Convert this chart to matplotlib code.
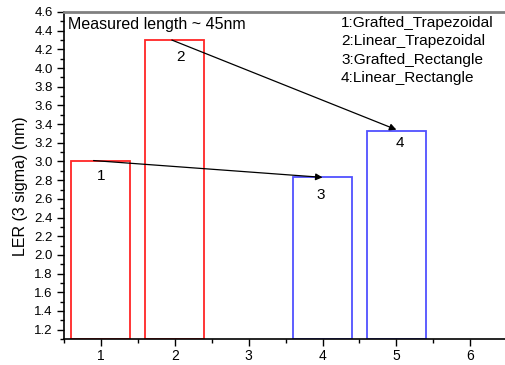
import matplotlib
matplotlib.use("Agg")
import matplotlib.pyplot as plt
from matplotlib.ticker import MultipleLocator

plt.rcParams['font.family'] = ['Liberation Sans', 'DejaVu Sans']

# Sample positions and LER values
positions = [1, 2, 4, 5]
ler_values = [3.01, 4.30, 2.83, 3.33]
bar_labels = ["1", "2", "3", "4"]
bar_colors = ["#ff0000", "#ff0000", "#3333ff", "#3333ff"]
legend_lines = ["1:Grafted_Trapezoidal", "2:Linear_Trapezoidal",
                "3:Grafted_Rectangle", "4:Linear_Rectangle"]
x_ticks = [1, 2, 3, 4, 5, 6]

W, H = 505, 365
fig = plt.figure(figsize=(W / 100, H / 100), dpi=100)
ax = fig.add_axes([64 / W, (H - 339) / H, (W - 64) / W, (339 - 12) / H])

ymin = 1.1
for x, v, c in zip(positions, ler_values, bar_colors):
    ax.bar(x, v - ymin, bottom=ymin, width=0.8, fill=False,
           edgecolor=c, linewidth=1.3, alpha=0.85)

# Number labels inside each bar
label_offsets = [(0.0, -0.16), (0.08, -0.18), (-0.03, -0.19), (0.05, -0.13)]
for x, v, t, (dx, dy) in zip(positions, ler_values, bar_labels, label_offsets):
    ax.text(x + dx, v + dy, t, ha="center", va="center", fontsize=11)

# Arrows linking trapezoidal to rectangle results
ax.annotate("", xy=(4.0, 2.83), xytext=(0.9, 3.01),
            arrowprops=dict(arrowstyle="-|>", color="black", lw=0.9,
                            mutation_scale=10, shrinkA=0, shrinkB=0))
ax.annotate("", xy=(5.0, 3.34), xytext=(1.96, 4.30),
            arrowprops=dict(arrowstyle="-|>", color="black", lw=0.9,
                            mutation_scale=10, shrinkA=0, shrinkB=0))

ax.set_xlim(0.5, 6.47)
ax.set_ylim(ymin, 4.6)
ax.set_xticks(x_ticks)
ax.xaxis.set_minor_locator(MultipleLocator(0.5))
ax.yaxis.set_minor_locator(MultipleLocator(0.1))
ax.set_yticks([1.2 + 0.2 * i for i in range(18)])
ax.set_yticklabels([f"{1.2 + 0.2 * i:.1f}" for i in range(18)])
ax.tick_params(axis="both", which="major", direction="out", length=5,
               width=1, labelsize=10, pad=2)
ax.tick_params(axis="y", which="major", labelsize=9.5, pad=3)
ax.tick_params(axis="both", which="minor", direction="out", length=3, width=1)

ax.spines["right"].set_visible(False)
ax.spines["top"].set_color("#808080")
ax.spines["top"].set_linewidth(2)
ax.spines["left"].set_linewidth(1.2)
ax.spines["bottom"].set_linewidth(1.2)

ax.set_ylabel("LER (3 sigma) (nm)", fontsize=11.5)
ax.yaxis.set_label_coords(-0.082, 0.468)

fig.text(68 / W, 1 - 24 / H, "Measured length ~ 45nm", fontsize=11.5,
         ha="left", va="center")
for i, line in enumerate(legend_lines):
    fig.text(341 / W, 1 - (23 + 18.3 * i) / H, line, fontsize=11.1,
             ha="left", va="center")

fig.savefig("out.png", dpi=100)
